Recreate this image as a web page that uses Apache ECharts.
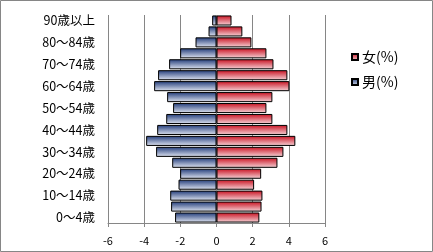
<!DOCTYPE html>
<html><head><meta charset="utf-8">
<script src="https://cdn.jsdelivr.net/npm/echarts@6/dist/echarts.min.js"></script>
<style>html,body{margin:0;padding:0;background:#fff}#c{width:433px;height:252px}</style>
</head><body><div id="c"></div>
<script>
const categories = ['0～4歳','5～9歳','10～14歳','15～19歳','20～24歳','25～29歳','30～34歳','35～39歳','40～44歳','45～49歳','50～54歳','55～59歳','60～64歳','65～69歳','70～74歳','75～79歳','80～84歳','85～89歳','90歳以上'];
const male = [-2.29,-2.51,-2.56,-2.10,-2.01,-2.45,-3.34,-3.89,-3.28,-2.78,-2.40,-2.73,-3.45,-3.23,-2.62,-2.01,-1.16,-0.44,-0.24];
const female = [2.37,2.49,2.54,2.08,2.47,3.37,3.70,4.36,3.92,3.09,2.76,3.09,4.03,3.92,3.15,2.76,1.93,1.43,0.83];
const xTicks = [-6,-4,-2,0,2,4,6];
const maleName = '男(%)', femaleName = '女(%)';

const chart = echarts.init(document.getElementById('c'), null, {renderer:'canvas'});
const grad = (a,b) => new echarts.graphic.LinearGradient(0,0,0,1,[{offset:0,color:a},{offset:1,color:b}]);
const font = '"Noto Sans CJK JP", sans-serif';
chart.setOption({
  animation:false,
  graphic:[{type:'rect',shape:{x:0.5,y:0.5,width:432,height:251},style:{fill:'none',stroke:'#868686',lineWidth:1},silent:true}],
  grid:{left:108,right:108,top:15,bottom:29},
  legend:{
    orient:'vertical', left:346, top:45, itemWidth:6, itemHeight:6, itemGap:11,
    data:[{name:femaleName,icon:'rect'},{name:maleName,icon:'rect'}],
    textStyle:{fontSize:14,color:'#000',fontFamily:font,padding:[0,0,0,-1]}
  },
  xAxis:{
    type:'value', min:xTicks[0], max:xTicks[xTicks.length-1], interval:2,
    axisLine:{show:true,lineStyle:{color:'#868686'}},
    axisTick:{show:true,length:4,lineStyle:{color:'#868686'}},
    axisLabel:{fontSize:11,color:'#000',margin:12,fontFamily:font},
    splitLine:{show:true,lineStyle:{color:'#868686'}}
  },
  yAxis:{
    type:'category', data:categories,
    axisLine:{show:false,onZero:false}, axisTick:{show:false},
    axisLabel:{interval:1,fontSize:12.5,color:'#000',margin:13,fontFamily:font},
    splitLine:{show:false}
  },
  series:[
    {name:maleName,type:'bar',data:male,barCategoryGap:'8%',barGap:'-100%',
     itemStyle:{color:grad('#203a78','#e2e7f3'),borderColor:'#000',borderWidth:1}},
    {name:femaleName,type:'bar',data:female,barCategoryGap:'8%',barGap:'-100%',
     itemStyle:{color:grad('#c80f1f','#f6d6da'),borderColor:'#000',borderWidth:1}}
  ]
});
</script></body></html>
